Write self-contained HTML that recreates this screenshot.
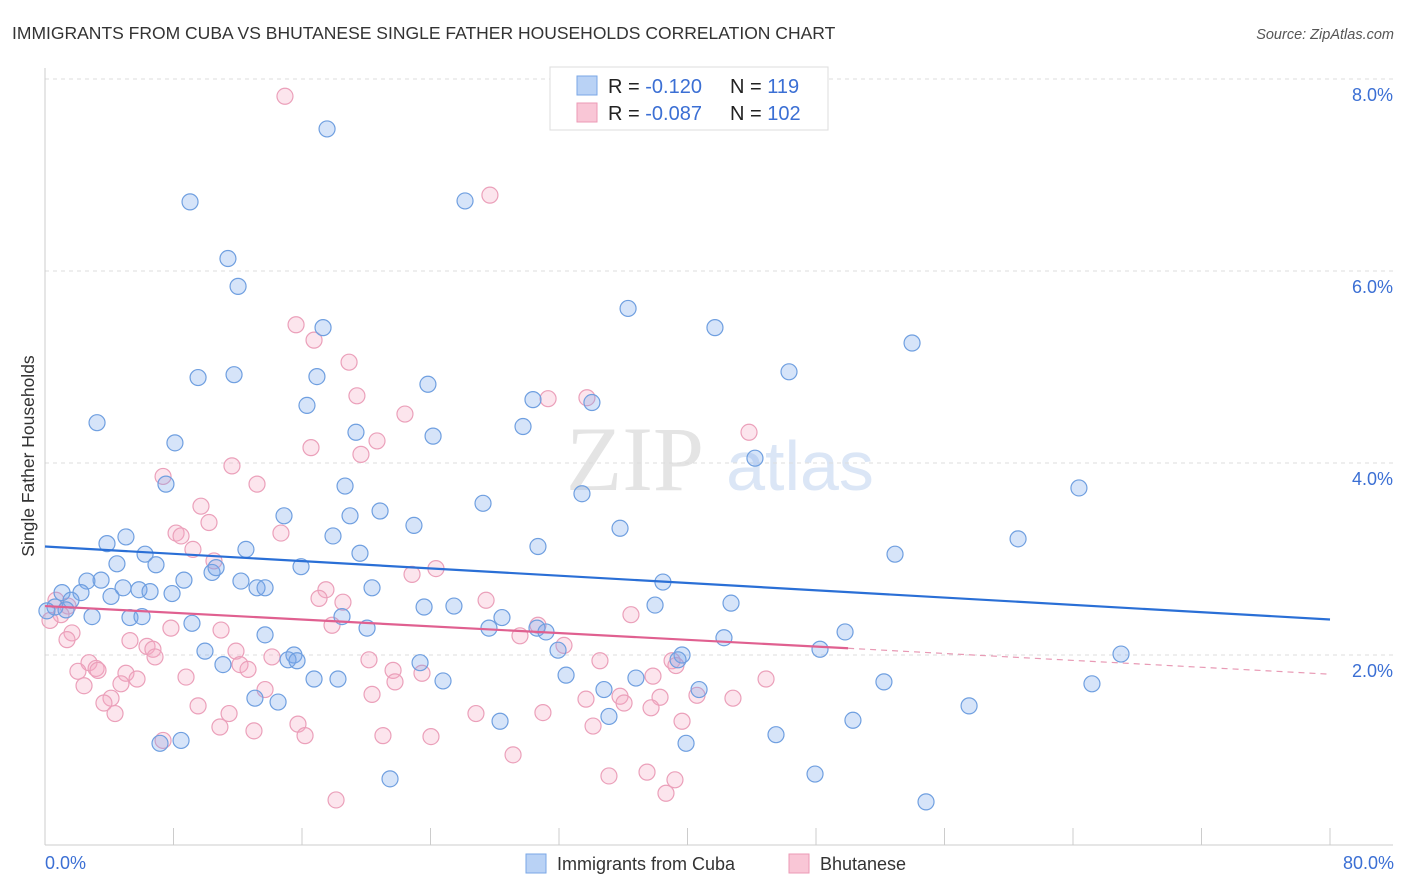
<!DOCTYPE html>
<html><head><meta charset="utf-8"><style>
body{margin:0;background:#fff;font-family:"Liberation Sans",sans-serif}
svg{display:block}
</style></head><body>
<svg id="c" width="1406" height="892" viewBox="0 0 1406 892">
<text x="12" y="39" font-size="17.5" fill="#333">IMMIGRANTS FROM CUBA VS BHUTANESE SINGLE FATHER HOUSEHOLDS CORRELATION CHART</text>
<text x="1394" y="39" font-size="14.5" fill="#555" font-style="italic" text-anchor="end">Source: ZipAtlas.com</text>
<text x="635" y="490" font-size="92" fill="#e4e4e4" font-family="Liberation Serif,serif" text-anchor="middle">ZIP</text>
<text x="800" y="490" font-size="70" fill="#dbe6f6" text-anchor="middle">atlas</text>
<g id="grid"></g><g id="pts"></g><g id="lines"></g>
<text transform="translate(34,456) rotate(-90)" font-size="17.5" fill="#333" text-anchor="middle">Single Father Households</text>
<text x="45" y="869" font-size="18" fill="#3b6fd4">0.0%</text>
<text x="1394" y="869" font-size="18" fill="#3b6fd4" text-anchor="end">80.0%</text>
<g>
<rect x="550" y="67" width="278" height="63" fill="#fff" stroke="#ddd"/>
<rect x="577" y="76" width="20" height="19" fill="#b9d2f5" stroke="#7aa7e6"/>
<rect x="577" y="103" width="20" height="19" fill="#f9c6d6" stroke="#ec9ab6"/>
<text x="608" y="93" font-size="20" fill="#222">R = <tspan fill="#3b6fd4"> -0.120</tspan><tspan x="730">N = </tspan><tspan fill="#3b6fd4"> 119</tspan></text>
<text x="608" y="120" font-size="20" fill="#222">R = <tspan fill="#3b6fd4">-0.087</tspan><tspan x="730">N = </tspan><tspan fill="#3b6fd4">102</tspan></text>
</g>
<g>
<rect x="526" y="854" width="20" height="19" fill="#b9d2f5" stroke="#7aa7e6"/>
<text x="557" y="870" font-size="18" fill="#333">Immigrants from Cuba</text>
<rect x="789" y="854" width="20" height="19" fill="#f9c6d6" stroke="#ec9ab6"/>
<text x="820" y="870" font-size="18" fill="#333">Bhutanese</text>
</g>
</svg>
<script>
const yTicks=[2,4,6,8];
const yTickLabels=["2.0%","4.0%","6.0%","8.0%"];
const xTicks=[0,8,16,24,32,40,48,56,64,72,80];
const bluePx=[[327,129],[190,202],[465,201],[228,259],[238,286],[628,308],[323,328],[715,328],[912,343],[198,378],[234,375],[317,377],[789,372],[428,384],[307,405],[533,400],[592,403],[97,423],[356,432],[433,436],[523,427],[175,443],[755,458],[166,484],[1079,488],[582,494],[483,503],[345,486],[350,516],[380,511],[284,516],[414,525],[620,528],[126,537],[107,544],[333,536],[538,547],[246,549],[895,554],[1018,539],[360,553],[145,554],[117,564],[156,565],[301,567],[212,572],[216,568],[101,580],[87,581],[184,580],[241,581],[663,582],[372,588],[257,588],[265,588],[123,588],[62,593],[81,593],[111,596],[139,590],[150,592],[172,594],[71,600],[55,607],[66,610],[47,611],[92,617],[130,618],[142,617],[424,607],[454,606],[655,605],[731,603],[502,618],[342,617],[192,623],[367,628],[489,628],[537,628],[546,632],[845,632],[265,635],[724,638],[558,650],[205,651],[1121,654],[682,655],[294,655],[678,660],[288,660],[297,661],[223,665],[420,663],[820,649],[566,675],[636,678],[443,681],[314,679],[338,679],[884,682],[1092,684],[699,690],[604,690],[255,698],[278,702],[969,706],[609,716],[853,720],[500,721],[776,735],[160,743],[181,740],[686,743],[815,774],[390,779],[926,802]];
const pinkPx=[[285,96],[490,195],[296,325],[314,340],[349,362],[357,396],[405,414],[548,399],[587,398],[377,441],[311,448],[361,454],[749,432],[232,466],[163,476],[257,484],[201,506],[209,523],[176,533],[181,536],[281,533],[193,549],[214,561],[412,574],[436,569],[326,590],[319,598],[343,602],[486,600],[631,615],[56,600],[68,606],[61,615],[50,620],[72,633],[67,640],[171,628],[221,630],[130,641],[147,646],[153,649],[332,625],[538,625],[520,636],[564,645],[236,651],[272,657],[155,657],[89,663],[96,668],[78,671],[98,670],[240,665],[369,660],[248,669],[393,670],[422,673],[600,661],[672,661],[676,666],[186,677],[126,673],[137,679],[395,682],[766,679],[84,686],[121,684],[653,676],[265,690],[372,694],[586,699],[620,696],[660,697],[697,695],[733,698],[111,698],[104,703],[624,703],[651,708],[198,706],[229,714],[115,714],[476,714],[543,713],[298,724],[593,726],[682,721],[220,727],[254,731],[305,736],[383,736],[431,737],[163,740],[513,755],[609,776],[647,772],[675,780],[666,793],[336,800]];
const blueX=bluePx.map(p=>+((p[0]-45)/1285*80).toFixed(2));
const blueY=bluePx.map(p=>+((847-p[1])/96).toFixed(2));
const pinkX=pinkPx.map(p=>+((p[0]-45)/1285*80).toFixed(2));
const pinkY=pinkPx.map(p=>+((847-p[1])/96).toFixed(2));
const blueTrend=[3.13,2.37];
const pinkTrend=[2.51,2.07,1.8];
const pinkSolidEnd=50;
const NS="http://www.w3.org/2000/svg";
const sx=v=>45+v/80*1285, sy=v=>847-v*96;
function mk(t,a,p){const e=document.createElementNS(NS,t);for(const k in a)e.setAttribute(k,a[k]);p.appendChild(e);return e;}
const g=document.getElementById('grid');
yTicks.forEach((v,i)=>{
 const l=mk('line',{x1:45,x2:1393,y1:sy(v),y2:sy(v),stroke:'#ddd','stroke-dasharray':'4,4'},g);
 
 
 const t=mk('text',{x:1393,y:sy(v)+22,'font-size':18,fill:'#3b6fd4','text-anchor':'end'},g);
 t.textContent=yTickLabels[i];
 
 
});
mk('line',{x1:45,x2:45,y1:68,y2:845,stroke:'#ccc'},g);
mk('line',{x1:45,x2:1393,y1:845,y2:845,stroke:'#ccc'},g);
xTicks.forEach(v=>{const l=mk('line',{x1:sx(v),x2:sx(v),y1:828,y2:845,stroke:'#ccc'},g);
 
 });
const pg=document.getElementById('pts');
function dots(X,Y,fill,stroke,name){X.forEach((x,i)=>{
 const c=mk('circle',{cx:sx(x),cy:sy(Y[i]),r:8,fill:fill,stroke:stroke,'stroke-width':1.2},pg);
 
 });}
dots(pinkX,pinkY,'rgba(246,170,196,0.3)','#eba0ba','bhutanese-point');
dots(blueX,blueY,'rgba(120,165,235,0.3)','#6f9fe0','cuba-point');
const lg=document.getElementById('lines');
const bl=mk('line',{x1:sx(0),y1:sy(blueTrend[0]),x2:sx(80),y2:sy(blueTrend[1]),stroke:'#2a6fd6','stroke-width':2.2},lg);


const pl=mk('line',{x1:sx(0),y1:sy(pinkTrend[0]),x2:sx(pinkSolidEnd),y2:sy(pinkTrend[1]),stroke:'#e06090','stroke-width':2.2},lg);


const pd=mk('line',{x1:sx(pinkSolidEnd),y1:sy(pinkTrend[1]),x2:sx(80),y2:sy(pinkTrend[2]),stroke:'#e89ab5','stroke-width':1.2,'stroke-dasharray':'6,5'},lg);


</script>
</body></html>
